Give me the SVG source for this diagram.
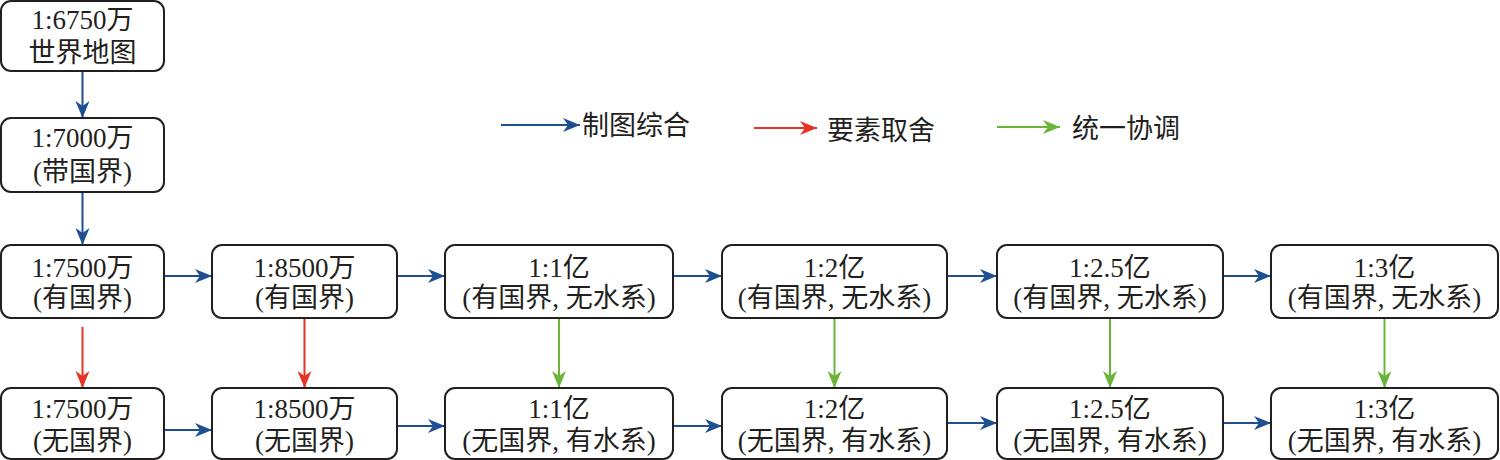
<svg xmlns="http://www.w3.org/2000/svg" width="1500" height="460" viewBox="0 0 1500 460">
<style>
.box{fill:#fff;stroke:#231f20;stroke-width:2}
.t{font-family:"Liberation Serif","Noto Sans CJK SC",serif;font-size:27px;fill:#231f20;text-anchor:middle}
.lg{font-family:"Liberation Serif","Noto Sans CJK SC",serif;font-size:27px;fill:#231f20}
.b{stroke:#1d4f91;stroke-width:2;fill:none;marker-end:url(#ab)}
.r{stroke:#e63323;stroke-width:2;fill:none;marker-end:url(#ar)}
.g{stroke:#6ab43a;stroke-width:2;fill:none;marker-end:url(#ag)}
</style>
<defs>
<marker id="ab" markerUnits="userSpaceOnUse" markerWidth="18" markerHeight="14" refX="17" refY="7" orient="auto"><path d="M0,0 L17,7 L0,14 L5,7 Z" fill="#1d4f91"/></marker>
<marker id="ar" markerUnits="userSpaceOnUse" markerWidth="18" markerHeight="14" refX="17" refY="7" orient="auto"><path d="M0,0 L17,7 L0,14 L5,7 Z" fill="#e63323"/></marker>
<marker id="ag" markerUnits="userSpaceOnUse" markerWidth="18" markerHeight="14" refX="17" refY="7" orient="auto"><path d="M0,0 L17,7 L0,14 L5,7 Z" fill="#6ab43a"/></marker>
</defs>

<g id="legend">
<line class="b" x1="501" y1="125" x2="580" y2="125"/>
<text class="lg" x="582" y="135">制图综合</text>
<line class="r" x1="754" y1="128" x2="817" y2="128"/>
<text class="lg" x="827" y="140">要素取舍</text>
<line class="g" x1="997" y1="127" x2="1060" y2="127"/>
<text class="lg" x="1072" y="138">统一协调</text>
</g>

<g id="connectors">
<line class="b" x1="82.5" y1="71" x2="82.5" y2="118"/>
<line class="b" x1="82.5" y1="192" x2="82.5" y2="245"/>
<line class="b" x1="164" y1="276" x2="212" y2="276"/>
<line class="b" x1="397" y1="276" x2="445" y2="276"/>
<line class="b" x1="673" y1="276" x2="722" y2="276"/>
<line class="b" x1="947" y1="276" x2="997" y2="276"/>
<line class="b" x1="1223" y1="276" x2="1271" y2="276"/>
<line class="b" x1="164" y1="430" x2="212" y2="430"/>
<line class="b" x1="397" y1="426" x2="445" y2="426"/>
<line class="b" x1="673" y1="426" x2="722" y2="426"/>
<line class="b" x1="947" y1="423" x2="997" y2="423"/>
<line class="b" x1="1223" y1="423" x2="1271" y2="423"/>
<line class="r" x1="82.5" y1="327" x2="82.5" y2="388"/>
<line class="r" x1="304.5" y1="318" x2="304.5" y2="388"/>
<line class="g" x1="559" y1="318" x2="559" y2="388"/>
<line class="g" x1="834.5" y1="318" x2="834.5" y2="388"/>
<line class="g" x1="1110" y1="318" x2="1110" y2="388"/>
<line class="g" x1="1384.5" y1="318" x2="1384.5" y2="388"/>
</g>

<g id="n6750"><rect class="box" x="1" y="1" width="163" height="70" rx="10"/><text class="t" x="82.5" y="29">1:6750万</text><text class="t" x="82.5" y="62">世界地图</text></g>
<g id="n7000"><rect class="box" x="1" y="118" width="163" height="74" rx="10"/><text class="t" x="82.5" y="147">1:7000万</text><text class="t" x="82.5" y="181">(带国界)</text></g>

<g id="n7500a"><rect class="box" x="1" y="245" width="163" height="73" rx="10"/><text class="t" x="82.5" y="277">1:7500万</text><text class="t" x="82.5" y="307">(有国界)</text></g>
<g id="n8500a"><rect class="box" x="212" y="245" width="185" height="73" rx="10"/><text class="t" x="304.5" y="277">1:8500万</text><text class="t" x="304.5" y="307">(有国界)</text></g>
<g id="n1a"><rect class="box" x="445" y="245" width="228" height="73" rx="10"/><text class="t" x="559" y="277">1:1亿</text><text class="t" x="559" y="307">(有国界, 无水系)</text></g>
<g id="n2a"><rect class="box" x="722" y="245" width="225" height="73" rx="10"/><text class="t" x="834.5" y="277">1:2亿</text><text class="t" x="834.5" y="307">(有国界, 无水系)</text></g>
<g id="n25a"><rect class="box" x="997" y="245" width="226" height="73" rx="10"/><text class="t" x="1110" y="277">1:2.5亿</text><text class="t" x="1110" y="307">(有国界, 无水系)</text></g>
<g id="n3a"><rect class="box" x="1271" y="245" width="227" height="73" rx="10"/><text class="t" x="1384.5" y="277">1:3亿</text><text class="t" x="1384.5" y="307">(有国界, 无水系)</text></g>

<g id="n7500b"><rect class="box" x="1" y="388" width="163" height="71" rx="10"/><text class="t" x="82.5" y="418">1:7500万</text><text class="t" x="82.5" y="450">(无国界)</text></g>
<g id="n8500b"><rect class="box" x="212" y="388" width="185" height="71" rx="10"/><text class="t" x="304.5" y="418">1:8500万</text><text class="t" x="304.5" y="450">(无国界)</text></g>
<g id="n1b"><rect class="box" x="445" y="388" width="228" height="71" rx="10"/><text class="t" x="559" y="418">1:1亿</text><text class="t" x="559" y="450">(无国界, 有水系)</text></g>
<g id="n2b"><rect class="box" x="722" y="388" width="225" height="71" rx="10"/><text class="t" x="834.5" y="418">1:2亿</text><text class="t" x="834.5" y="450">(无国界, 有水系)</text></g>
<g id="n25b"><rect class="box" x="997" y="388" width="226" height="71" rx="10"/><text class="t" x="1110" y="418">1:2.5亿</text><text class="t" x="1110" y="450">(无国界, 有水系)</text></g>
<g id="n3b"><rect class="box" x="1271" y="388" width="227" height="71" rx="10"/><text class="t" x="1384.5" y="418">1:3亿</text><text class="t" x="1384.5" y="450">(无国界, 有水系)</text></g>
</svg>
